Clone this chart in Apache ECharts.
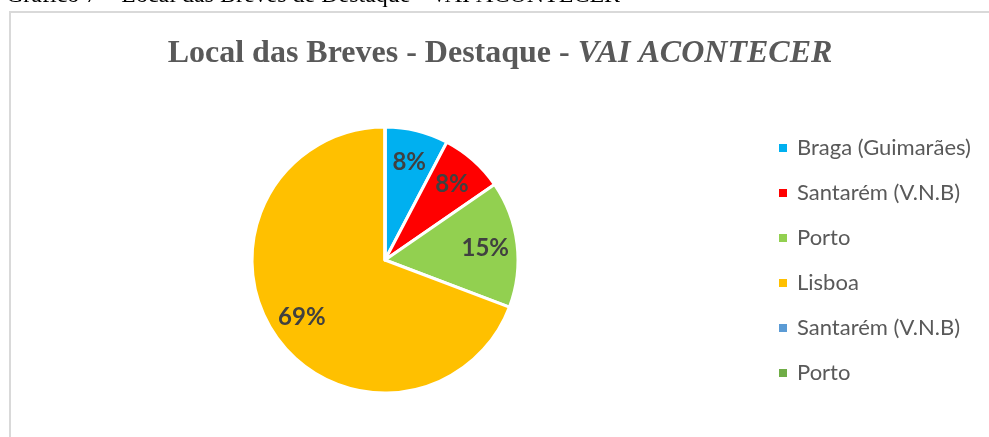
<!DOCTYPE html>
<html>
<head>
<meta charset="utf-8">
<script src="https://cdn.jsdelivr.net/npm/echarts@6/dist/echarts.min.js"></script>
<style>
html,body{margin:0;padding:0;background:#fff;}
#c{width:989px;height:437px;}
</style>
</head>
<body>
<div id="c"></div>
<script>
var categories = ['Braga (Guimarães)', 'Santarém (V.N.B)', 'Porto', 'Lisboa', 'Santarém (V.N.B)', 'Porto'];
var values = [1, 1, 2, 9, 0, 0];
var colors = ['#00B0F0', '#FF0000', '#92D050', '#FFC000', '#5B9BD5', '#70AD47'];
var titleMain = 'Local das Breves - Destaque - ';
var titleItalic = 'VAI ACONTECER';
var captionText = 'Gráfico 7 – Local das Breves de Destaque - VAI ACONTECER';

// unique names so the duplicated legend entries stay separate
var keys = categories.map(function (c, i) { return c + '#' + i; });
var pieData = keys.map(function (k, i) {
  return { name: k, value: values[i], itemStyle: { color: colors[i] } };
});
var labelData = keys.map(function (k, i) {
  return { name: k, value: values[i] };
});
function strip(n) { return n.replace(/#\d+$/, ''); }

var chart = echarts.init(document.getElementById('c'));
chart.setOption({
  animation: false,
  backgroundColor: '#ffffff',
  title: {
    text: '{a|' + titleMain + '}{b|' + titleItalic + '}',
    left: 495,
    textAlign: 'center',
    top: 33,
    textStyle: {
      rich: {
        a: { fontFamily: 'Liberation Serif', fontWeight: 'bold', fontSize: 32, color: '#595959' },
        b: { fontFamily: 'Liberation Serif', fontWeight: 'bold', fontStyle: 'italic', fontSize: 32, color: '#595959' }
      }
    }
  },
  legend: {
    orient: 'vertical',
    left: 772,
    top: 132,
    itemWidth: 10,
    itemHeight: 10,
    itemGap: 23,
    icon: 'rect',
    data: keys,
    formatter: function (n) { return strip(n); },
    textStyle: { fontFamily: 'Lato', fontSize: 22, color: '#595959', padding: [0, 0, 0, 4] }
  },
  graphic: [
    {
      type: 'rect',
      shape: { x: 10, y: 12, width: 1200, height: 600 },
      style: { fill: 'none', stroke: '#D9D9D9', lineWidth: 2 },
      silent: true
    },
    {
      type: 'text',
      left: 6,
      top: -16,
      style: { text: captionText, fontFamily: 'Liberation Serif', fontSize: 24, fill: '#000000' },
      silent: true
    }
  ],
  series: [
    {
      type: 'pie',
      center: [385, 260],
      radius: [0, 133],
      startAngle: 90,
      clockwise: true,
      avoidLabelOverlap: false,
      label: { show: false },
      labelLine: { show: false },
      itemStyle: { borderColor: '#ffffff', borderWidth: 3 },
      emphasis: { disabled: true },
      data: pieData
    },
    {
      type: 'pie',
      center: [385, 260],
      radius: [78, 118],
      startAngle: 90,
      clockwise: true,
      silent: true,
      avoidLabelOverlap: false,
      legendHoverLink: false,
      itemStyle: { color: 'rgba(0,0,0,0)', borderWidth: 0 },
      label: {
        show: true,
        position: 'inside',
        fontFamily: 'Lato',
        fontWeight: 'bold',
        fontSize: 24,
        color: '#404040',
        formatter: function (p) { return p.value > 0 ? Math.round(p.percent) + '%' : ''; }
      },
      labelLine: { show: false },
      emphasis: { disabled: true },
      data: labelData
    }
  ]
});
</script>
</body>
</html>
